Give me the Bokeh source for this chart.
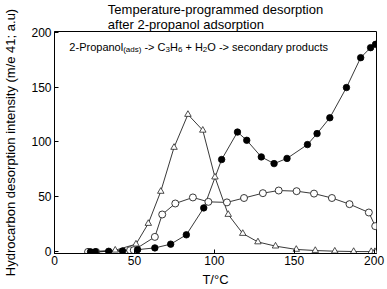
from bokeh.plotting import figure
from bokeh.models import Range1d, Label, FixedTicker
from bokeh.embed import file_html
from bokeh.resources import INLINE

# ---- data ----
x_filled = [22.5, 25.6, 33.9, 42.6, 52, 62.8, 72.7, 82.5, 93.4, 104.6, 114.5, 120.3, 129.4,
            137.4, 145.5, 158.3, 164.3, 172.3, 182.7, 191.6, 197.8, 200.9]
y_filled = [0, 0, 0.5, 0.8, 2, 3.6, 7, 15.5, 40, 84, 109, 101.5, 86.4,
            80.3, 85, 97.6, 107.6, 122, 149.5, 176.7, 185.8, 188.8]

x_open = [21, 26, 47.3, 49.6, 62.8, 67.4, 75.6, 86.6, 96.3, 107.9, 118.6, 130.4, 140.3,
          151.5, 162.4, 173.6, 184.6, 196.7, 200.7]
y_open = [0, 0, 1.5, 1.5, 13.6, 34, 44, 49.5, 45.5, 45, 49, 53.4, 55.8,
          55.2, 53, 49, 43.4, 35.8, 23.4]

x_tri = [21, 38, 51, 58.7, 66.5, 74.8, 83.5, 92.8, 100.4, 108.7, 117.8, 127.3, 138.3,
         151.3, 163.2, 175.4, 187.2, 198.2, 200.5]
y_tri = [0, 1.5, 7, 25.8, 55, 95, 125, 110.6, 68, 34, 16.7, 9, 5.2,
         2.2, 1.2, 0.6, 0.3, 0.2, 0.2]

x_ticks = [0, 50, 100, 150, 200]
y_ticks = [0, 50, 100, 150, 200]

title_text = "Temperature-programmed desorption\nafter 2-propanol adsorption"
y_label = "Hydrocarbon desorption intensity (m/e 41; a.u)"
x_label = "T/°C"

# annotation pieces: (text, is_subscript)
reaction = [("2-Propanol", False), ("(ads)", True), (" -> C", False), ("3", True),
            ("H", False), ("6", True), (" + H", False), ("2", True),
            ("O -> secondary products", False)]

FONT = "Liberation Sans"
W = {'2': 556, '-': 333, 'P': 667, 'r': 333, 'o': 556, 'p': 556, 'a': 556, 'n': 556,
     'l': 222, '(': 333, ')': 333, 'd': 556, 's': 500, ' ': 278, '>': 584, 'C': 722,
     '3': 556, 'H': 722, '6': 556, '+': 584, 'O': 778, 'e': 556, 'c': 500, 'y': 500,
     'u': 556, 't': 278}


def text_width(s, size):
    return sum(W.get(ch, 556) for ch in s) / 1000.0 * size


p = figure(width=387, height=289, output_backend="svg", toolbar_location=None,
           x_range=Range1d(0, 201.5), y_range=Range1d(-1.5, 200.5),
           min_border_left=52, min_border_right=11, min_border_bottom=0, min_border_top=0)

p.title.text = title_text
p.title.align = "center"
p.title.text_font = FONT
p.title.text_font_size = "13px"
p.title.text_font_style = "normal"
p.title.text_color = "black"
p.title.text_line_height = 0.95
p.title.standoff = 0
p.title.offset = 0

p.xgrid.visible = False
p.ygrid.visible = False
p.outline_line_color = "black"
p.outline_line_width = 1
p.outline_line_alpha = 1
p.background_fill_color = "white"
p.border_fill_color = "white"

for ax in (p.xaxis[0], p.yaxis[0]):
    ax.axis_line_color = "black"
    ax.major_tick_line_color = "black"
    ax.major_tick_in = 4
    ax.major_tick_out = 0
    ax.minor_tick_line_color = None
    ax.major_label_text_font = FONT
    ax.major_label_text_font_size = "12px"
    ax.major_label_text_color = "black"
    ax.axis_label_text_font = FONT
    ax.axis_label_text_font_size = "13px"
    ax.axis_label_text_font_style = "normal"
    ax.axis_label_text_color = "black"

p.xaxis.ticker = FixedTicker(ticks=x_ticks)
p.yaxis.ticker = FixedTicker(ticks=y_ticks)
p.xaxis.major_label_standoff = 2
p.xaxis.axis_label = x_label
p.xaxis.axis_label_standoff = 4
p.yaxis.major_label_standoff = 3
p.yaxis.axis_label = y_label
p.yaxis.axis_label_standoff = 10

# lines
for xs, ys in ((x_tri, y_tri), (x_open, y_open), (x_filled, y_filled)):
    p.line(xs, ys, line_color="#222222", line_width=0.9)

# markers
p.scatter(x_tri, y_tri, marker="triangle", size=6.5, fill_color="white",
          line_color="#222222", line_width=0.8)
p.scatter(x_open, y_open, marker="circle", size=7, fill_color="white",
          line_color="#222222", line_width=0.9)
p.scatter(x_filled, y_filled, marker="circle", size=6.5, fill_color="black",
          line_color="black", line_width=0.8)

# reaction annotation with subscripts (Arial-metric widths for placement)
main_size, sub_size = 11.0, 8.0
offset = 0.0
for txt, sub in reaction:
    size = sub_size if sub else main_size
    stripped = txt.lstrip(" ")
    offset += text_width(txt[:len(txt) - len(stripped)], size)
    p.add_layout(Label(x=9.3, y=186.7, text=stripped, text_font=FONT,
                       text_font_size=f"{size:g}px", text_align="left",
                       text_baseline="alphabetic", x_offset=offset,
                       y_offset=-3 if sub else 0, text_color="black"))
    offset += text_width(stripped, size)

open("out.html", "w").write(file_html(p, INLINE))
